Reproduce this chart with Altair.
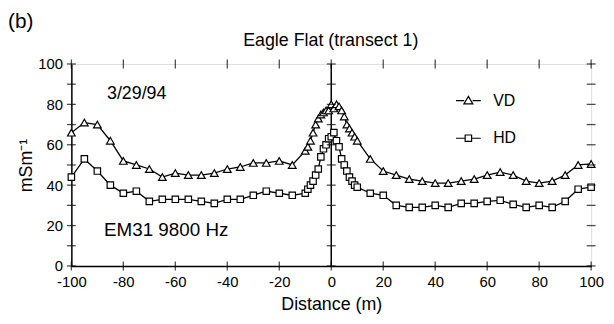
import altair as alt
import pandas as pd

# ---- data ----
distance = [-100, -95, -90, -85, -80, -75, -70, -65, -60, -55, -50, -45, -40, -35, -30, -25, -20, -15,
            -10, -9, -8, -7, -6, -5, -4, -3, -2, -1, 0, 1, 2, 3, 4, 5, 6, 7, 8, 9, 10,
            15, 20, 25, 30, 35, 40, 45, 50, 55, 60, 65, 70, 75, 80, 85, 90, 95, 100]
vd = [66, 71, 70, 62, 52, 50, 48, 44, 46, 45, 45, 46, 48, 49, 51, 51, 52, 50,
      57, 59, 62, 66, 70, 73, 75, 76, 77, 77, 80, 78, 80, 79, 77, 74, 70, 68, 66, 64, 62,
      53, 47, 45, 43, 42, 41, 41, 42, 43, 45, 46.5, 45, 42, 41, 42, 45, 50, 50.5]
hd = [44, 53, 47, 40, 36, 37, 32, 33, 33, 33, 32, 31, 33, 33, 35, 37, 36, 35,
      36, 38, 40, 42, 45, 48, 54, 58, 60, 63, 64, 66, 62, 59, 53, 50, 47, 44, 42, 40, 39,
      36, 35, 30, 29, 29, 30, 29, 31, 31, 32, 32.5, 30.5, 29, 30, 29, 32, 38, 39]
series_names = ["VD", "HD"]

x_tick_values = [-100, -80, -60, -40, -20, 0, 20, 40, 60, 80, 100]
y_tick_values = [0, 10, 20, 30, 40, 50, 60, 70, 80, 90, 100]
y_label_values = [0, 20, 40, 60, 80, 100]
x_frame = [-100, 0, 100]
y_frame = [0, 100]

FONT = "Liberation Sans"

rows = []
for d, a, b in zip(distance, vd, hd):
    rows.append({"x": d, "y": a, "series": "VD"})
    rows.append({"x": d, "y": b, "series": "HD"})
df = pd.DataFrame(rows)

hticks = pd.DataFrame([{"x": xf, "y": yv} for xf in x_frame for yv in y_tick_values])
vticks = pd.DataFrame([{"x": xv, "y": yf} for yf in y_frame for xv in x_tick_values])
center = pd.DataFrame({"x": [0]})

xscale = alt.Scale(domain=[-100, 100], nice=False, zero=False)
yscale = alt.Scale(domain=[0, 100], nice=False)

xaxis = alt.Axis(values=x_tick_values, ticks=False, grid=False, labelPadding=9,
                 labelExpr="'' + datum.value",
                 title="Distance (m)", titlePadding=6, domainColor="black", domainWidth=1.5,
                 labelFontSize=15, titleFontSize=18, labelFont=FONT, titleFont=FONT,
                 labelColor="black", titleColor="black", titleFontWeight="normal",
                 labelFlush=False)
yaxis = alt.Axis(values=y_label_values, ticks=False, grid=False, labelPadding=9,
                 labelExpr="'' + datum.value",
                 title="mSm⁻¹", titlePadding=2, domainColor="black", domainWidth=1.5,
                 labelFontSize=15, titleFontSize=18, labelFont=FONT, titleFont=FONT,
                 labelColor="black", titleColor="black", titleFontWeight="normal",
                 labelFlush=False)

base = alt.Chart(df)

lines = base.mark_line(color="black", strokeWidth=1.3).encode(
    x=alt.X("x:Q", scale=xscale, axis=xaxis),
    y=alt.Y("y:Q", scale=yscale, axis=yaxis),
    detail="series:N",
)

points = base.mark_point(filled=False, fill="white", fillOpacity=1, stroke="black",
                         strokeWidth=1.2, opacity=1).encode(
    x="x:Q", y="y:Q",
    shape=alt.Shape("series:N", scale=alt.Scale(domain=series_names,
                                                 range=["triangle-up", "square"]),
                    legend=None),
    size=alt.Size("series:N", scale=alt.Scale(domain=series_names, range=[60, 42]), legend=None),
)

tri_path = "M-2.5,0H-0.85M0.85,0H2.5M0,-0.85L0.9,0.65L-0.9,0.65Z"
sq_path = "M-2.5,0H-0.65M0.65,0H2.5M-0.65,-0.65H0.65V0.65H-0.65Z"
legend_layer = base.mark_point(opacity=0).encode(
    x="x:Q", y="y:Q",
    shape=alt.Shape("series:N",
                    scale=alt.Scale(domain=series_names, range=[tri_path, sq_path]),
                    legend=alt.Legend(title=None, orient="none", legendX=393, legendY=29,
                                      symbolSize=100, symbolStrokeColor="black",
                                      symbolFillColor="white", symbolStrokeWidth=1.2,
                                      symbolOpacity=1, labelFontSize=16, labelFont=FONT,
                                      labelColor="black", labelOffset=17, rowPadding=22,
                                      padding=0)),
)

rule = alt.Chart(center).mark_rule(color="black", strokeWidth=1.5).encode(x="x:Q")

htick_layer = alt.Chart(hticks).mark_tick(orient="horizontal", size=9, thickness=1.3,
                                          color="black").encode(x="x:Q", y="y:Q")
vtick_layer = alt.Chart(vticks).mark_tick(orient="vertical", size=9, thickness=1.3,
                                          color="black").encode(x="x:Q", y="y:Q")

ann = alt.Chart(pd.DataFrame({"t": ["3/29/94", "EM31 9800 Hz"],
                              "px": [36, 33], "py": [30, 168],
                              "fs": [18, 19]}))
ann_text = ann.mark_text(align="left", baseline="middle", font=FONT, color="black").encode(
    x=alt.X("px:Q", scale=None), y=alt.Y("py:Q", scale=None), text="t:N",
    size=alt.Size("fs:Q", scale=None))

label_b = alt.Chart(pd.DataFrame({"t": ["(b)"]})).mark_text(
    align="left", baseline="middle", font=FONT, fontSize=21, color="black"
).encode(x=alt.value(-64), y=alt.value(-42), text="t:N")

title_text = alt.Chart(pd.DataFrame({"t": ["Eagle Flat (transect 1)"]})).mark_text(
    align="center", baseline="middle", font=FONT, fontSize=18, color="black"
).encode(x=alt.value(262), y=alt.value(-23), text="t:N")

chart = alt.layer(
    rule, lines, points, legend_layer, htick_layer, vtick_layer, ann_text, label_b, title_text
).resolve_scale(shape="independent", size="independent").properties(
    width=525, height=204,
    autosize=alt.AutoSizeParams(type="none"),
    padding={"left": 64, "top": 55, "right": 15, "bottom": 49},
).configure_view(stroke="black", strokeWidth=1.5).configure(background="white")

chart.save("out.html", embed_options={"renderer": "svg", "actions": False})
